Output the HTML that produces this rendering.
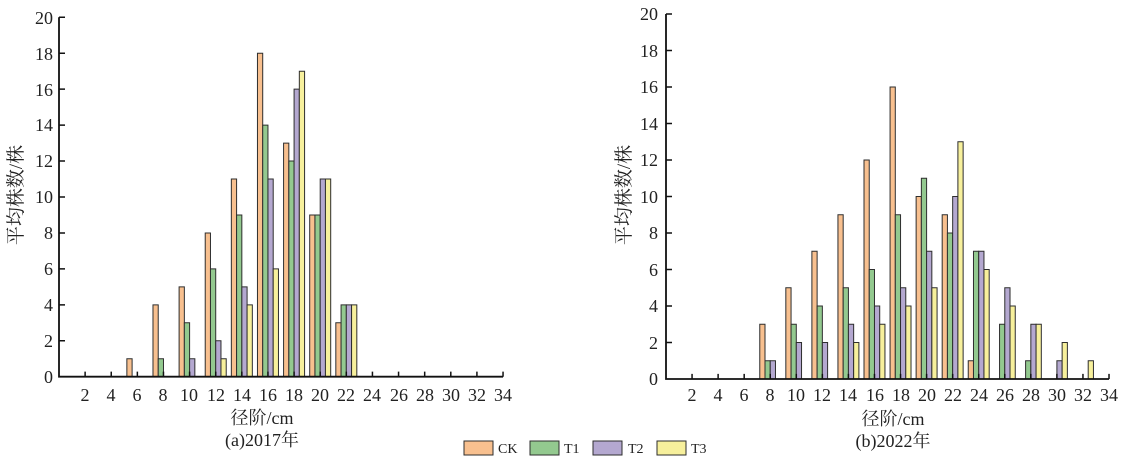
<!DOCTYPE html>
<html><head><meta charset="utf-8"><style>
html,body{margin:0;padding:0;background:#fff;}
svg{display:block;}
text{font-family:"Liberation Serif","Noto Serif CJK SC",serif;fill:#222;}
.b rect{stroke:#2e2e2e;stroke-width:1;vector-effect:non-scaling-stroke;}
.ck{fill:#f8c08f}.t1{fill:#93c98f}.t2{fill:#b4a8d0}.t3{fill:#f7f09c}
.ax{stroke:#111;stroke-width:1.8;vector-effect:non-scaling-stroke;fill:none}
.tk{stroke:#111;stroke-width:1.5;vector-effect:non-scaling-stroke}
.yl{font-size:18px;text-anchor:end}
.xl{font-size:18px;text-anchor:middle}
</style></head><body>
<svg width="1134" height="458" viewBox="0 0 1134 458" xmlns="http://www.w3.org/2000/svg">
<!-- LEFT CHART -->
<g transform="translate(59,376.7) scale(13.06,-17.97)">
<g class="b">
<rect class="ck" x="5.196" y="0" width="0.402" height="1"/>
<rect class="ck" x="7.196" y="0" width="0.402" height="4"/><rect class="t1" x="7.598" y="0" width="0.402" height="1"/>
<rect class="ck" x="9.196" y="0" width="0.402" height="5"/><rect class="t1" x="9.598" y="0" width="0.402" height="3"/><rect class="t2" x="10" y="0" width="0.402" height="1"/>
<rect class="ck" x="11.196" y="0" width="0.402" height="8"/><rect class="t1" x="11.598" y="0" width="0.402" height="6"/><rect class="t2" x="12" y="0" width="0.402" height="2"/><rect class="t3" x="12.402" y="0" width="0.402" height="1"/>
<rect class="ck" x="13.196" y="0" width="0.402" height="11"/><rect class="t1" x="13.598" y="0" width="0.402" height="9"/><rect class="t2" x="14" y="0" width="0.402" height="5"/><rect class="t3" x="14.402" y="0" width="0.402" height="4"/>
<rect class="ck" x="15.196" y="0" width="0.402" height="18"/><rect class="t1" x="15.598" y="0" width="0.402" height="14"/><rect class="t2" x="16" y="0" width="0.402" height="11"/><rect class="t3" x="16.402" y="0" width="0.402" height="6"/>
<rect class="ck" x="17.196" y="0" width="0.402" height="13"/><rect class="t1" x="17.598" y="0" width="0.402" height="12"/><rect class="t2" x="18" y="0" width="0.402" height="16"/><rect class="t3" x="18.402" y="0" width="0.402" height="17"/>
<rect class="ck" x="19.196" y="0" width="0.402" height="9"/><rect class="t1" x="19.598" y="0" width="0.402" height="9"/><rect class="t2" x="20" y="0" width="0.402" height="11"/><rect class="t3" x="20.402" y="0" width="0.402" height="11"/>
<rect class="ck" x="21.196" y="0" width="0.402" height="3"/><rect class="t1" x="21.598" y="0" width="0.402" height="4"/><rect class="t2" x="22" y="0" width="0.402" height="4"/><rect class="t3" x="22.402" y="0" width="0.402" height="4"/>
</g>
<path class="ax" d="M0 20 V0 H34"/>
<path class="tk" d="M0 2H0.46M0 4H0.46M0 6H0.46M0 8H0.46M0 10H0.46M0 12H0.46M0 14H0.46M0 16H0.46M0 18H0.46M0 20H0.46
M2 0V0.28M4 0V0.28M6 0V0.28M8 0V0.28M10 0V0.28M12 0V0.28M14 0V0.28M16 0V0.28M18 0V0.28M20 0V0.28M22 0V0.28M24 0V0.28M26 0V0.28M28 0V0.28M30 0V0.28M32 0V0.28M34 0V0.28"/>
</g>
<g class="yl">
<text x="53" y="383">0</text><text x="53" y="347">2</text><text x="53" y="311">4</text><text x="53" y="275">6</text><text x="53" y="239">8</text><text x="53" y="203">10</text><text x="53" y="167">12</text><text x="53" y="131">14</text><text x="53" y="96">16</text><text x="53" y="60">18</text><text x="53" y="24">20</text>
</g>
<g class="xl">
<text x="85" y="401">2</text><text x="111" y="401">4</text><text x="137" y="401">6</text><text x="163" y="401">8</text><text x="189" y="401">10</text><text x="216" y="401">12</text><text x="242" y="401">14</text><text x="268" y="401">16</text><text x="294" y="401">18</text><text x="320" y="401">20</text><text x="346" y="401">22</text><text x="372" y="401">24</text><text x="399" y="401">26</text><text x="425" y="401">28</text><text x="451" y="401">30</text><text x="477" y="401">32</text><text x="503" y="401">34</text>
</g>
<text x="262" y="424" style="font-size:18px;text-anchor:middle">径阶/cm</text>
<text x="262" y="446" style="font-size:18px;text-anchor:middle">(a)2017年</text>
<text transform="translate(22,195) rotate(-90)" style="font-size:19px;text-anchor:middle">平均株数/株</text>

<!-- RIGHT CHART -->
<g transform="translate(666,379) scale(13.03,-18.25)">
<g class="b">
<rect class="ck" x="7.196" y="0" width="0.402" height="3"/><rect class="t1" x="7.598" y="0" width="0.402" height="1"/><rect class="t2" x="8" y="0" width="0.402" height="1"/>
<rect class="ck" x="9.196" y="0" width="0.402" height="5"/><rect class="t1" x="9.598" y="0" width="0.402" height="3"/><rect class="t2" x="10" y="0" width="0.402" height="2"/>
<rect class="ck" x="11.196" y="0" width="0.402" height="7"/><rect class="t1" x="11.598" y="0" width="0.402" height="4"/><rect class="t2" x="12" y="0" width="0.402" height="2"/>
<rect class="ck" x="13.196" y="0" width="0.402" height="9"/><rect class="t1" x="13.598" y="0" width="0.402" height="5"/><rect class="t2" x="14" y="0" width="0.402" height="3"/><rect class="t3" x="14.402" y="0" width="0.402" height="2"/>
<rect class="ck" x="15.196" y="0" width="0.402" height="12"/><rect class="t1" x="15.598" y="0" width="0.402" height="6"/><rect class="t2" x="16" y="0" width="0.402" height="4"/><rect class="t3" x="16.402" y="0" width="0.402" height="3"/>
<rect class="ck" x="17.196" y="0" width="0.402" height="16"/><rect class="t1" x="17.598" y="0" width="0.402" height="9"/><rect class="t2" x="18" y="0" width="0.402" height="5"/><rect class="t3" x="18.402" y="0" width="0.402" height="4"/>
<rect class="ck" x="19.196" y="0" width="0.402" height="10"/><rect class="t1" x="19.598" y="0" width="0.402" height="11"/><rect class="t2" x="20" y="0" width="0.402" height="7"/><rect class="t3" x="20.402" y="0" width="0.402" height="5"/>
<rect class="ck" x="21.196" y="0" width="0.402" height="9"/><rect class="t1" x="21.598" y="0" width="0.402" height="8"/><rect class="t2" x="22" y="0" width="0.402" height="10"/><rect class="t3" x="22.402" y="0" width="0.402" height="13"/>
<rect class="ck" x="23.196" y="0" width="0.402" height="1"/><rect class="t1" x="23.598" y="0" width="0.402" height="7"/><rect class="t2" x="24" y="0" width="0.402" height="7"/><rect class="t3" x="24.402" y="0" width="0.402" height="6"/>
<rect class="t1" x="25.598" y="0" width="0.402" height="3"/><rect class="t2" x="26" y="0" width="0.402" height="5"/><rect class="t3" x="26.402" y="0" width="0.402" height="4"/>
<rect class="t1" x="27.598" y="0" width="0.402" height="1"/><rect class="t2" x="28" y="0" width="0.402" height="3"/><rect class="t3" x="28.402" y="0" width="0.402" height="3"/>
<rect class="t2" x="30" y="0" width="0.402" height="1"/><rect class="t3" x="30.402" y="0" width="0.402" height="2"/>
<rect class="t3" x="32.402" y="0" width="0.402" height="1"/>
</g>
<path class="ax" d="M0 20 V0 H34"/>
<path class="tk" d="M0 2H0.46M0 4H0.46M0 6H0.46M0 8H0.46M0 10H0.46M0 12H0.46M0 14H0.46M0 16H0.46M0 18H0.46M0 20H0.46
M2 0V0.28M4 0V0.28M6 0V0.28M8 0V0.28M10 0V0.28M12 0V0.28M14 0V0.28M16 0V0.28M18 0V0.28M20 0V0.28M22 0V0.28M24 0V0.28M26 0V0.28M28 0V0.28M30 0V0.28M32 0V0.28M34 0V0.28"/>
</g>
<g class="yl">
<text x="658" y="385">0</text><text x="658" y="349">2</text><text x="658" y="312">4</text><text x="658" y="276">6</text><text x="658" y="239">8</text><text x="658" y="203">10</text><text x="658" y="166">12</text><text x="658" y="130">14</text><text x="658" y="93">16</text><text x="658" y="57">18</text><text x="658" y="20">20</text>
</g>
<g class="xl">
<text x="692" y="401">2</text><text x="718" y="401">4</text><text x="744" y="401">6</text><text x="770" y="401">8</text><text x="796" y="401">10</text><text x="822" y="401">12</text><text x="848" y="401">14</text><text x="875" y="401">16</text><text x="901" y="401">18</text><text x="927" y="401">20</text><text x="953" y="401">22</text><text x="979" y="401">24</text><text x="1005" y="401">26</text><text x="1031" y="401">28</text><text x="1057" y="401">30</text><text x="1083" y="401">32</text><text x="1109" y="401">34</text>
</g>
<text x="893" y="425" style="font-size:18px;text-anchor:middle">径阶/cm</text>
<text x="893" y="447" style="font-size:18px;text-anchor:middle">(b)2022年</text>
<text transform="translate(630,195) rotate(-90)" style="font-size:19px;text-anchor:middle">平均株数/株</text>

<!-- LEGEND -->
<g class="b">
<rect class="ck" x="464" y="441" width="29" height="14"/>
<rect class="t1" x="530" y="441" width="29" height="14"/>
<rect class="t2" x="593" y="441" width="29" height="14"/>
<rect class="t3" x="657" y="441" width="29" height="14"/>
</g>
<g style="font-size:14px">
<text x="498" y="453">CK</text><text x="564" y="453">T1</text><text x="628" y="453">T2</text><text x="691" y="453">T3</text>
</g>
</svg>
</body></html>
